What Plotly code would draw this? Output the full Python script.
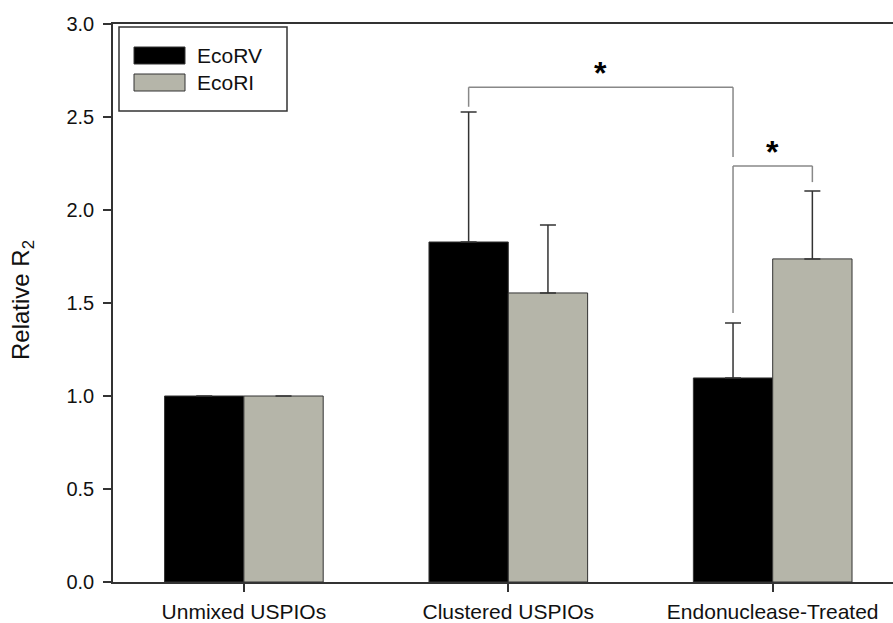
import plotly.graph_objects as go

# Groups and measured values
categories = ["Unmixed USPIOs", "Clustered USPIOs", "Endonuclease-Treated"]
ecorv_mean = [1.0, 1.828, 1.097]
ecorv_err = [0.0, 0.699, 0.295]
ecori_mean = [1.0, 1.554, 1.737]
ecori_err = [0.0, 0.365, 0.365]

y_ticks = [0.0, 0.5, 1.0, 1.5, 2.0, 2.5, 3.0]

# significance brackets: (x_left, x_right, y_bar, y_left_end, y_right_end)
BAR_HALF = 0.15
brackets = [
    (1 - BAR_HALF, 2 - BAR_HALF, 2.66, 2.555, 2.285),
    (2 - BAR_HALF, 2 + BAR_HALF, 2.237, 1.446, 2.15),
]

W, H = 893, 623
L, T, B = 113, 24, 41
PW, PH = W - L, H - T - B

FONT = "Liberation Sans, Arial, sans-serif"
BLACK = "#000000"
GRAY = "#b5b5a9"
EDGE = "#333333"

x_pos = list(range(len(categories)))

fig = go.Figure()
fig.add_trace(go.Bar(
    x=x_pos, y=ecorv_mean, name="EcoRV",
    marker=dict(color=BLACK, line=dict(color=EDGE, width=1)),
    error_y=dict(type="data", array=ecorv_err, arrayminus=[0] * 3, symmetric=False,
                 color=EDGE, thickness=1.5, width=8),
))
fig.add_trace(go.Bar(
    x=x_pos, y=ecori_mean, name="EcoRI",
    marker=dict(color=GRAY, line=dict(color=EDGE, width=1)),
    error_y=dict(type="data", array=ecori_err, arrayminus=[0] * 3, symmetric=False,
                 color=EDGE, thickness=1.5, width=8),
))

shapes = []
annotations = []
for xl, xr, yb, yl, yr in brackets:
    for x0, y0, x1, y1 in [(xl, yl, xl, yb), (xl, yb, xr, yb), (xr, yb, xr, yr)]:
        shapes.append(dict(type="line", xref="x", yref="y", x0=x0, y0=y0, x1=x1, y1=y1,
                           line=dict(color="#888888", width=1.5)))
    annotations.append(dict(x=(xl + xr) / 2, y=yb, xref="x", yref="y", text="*",
                            showarrow=False, yanchor="bottom", yshift=-6,
                            font=dict(family=FONT, size=32, color="#000000", weight="bold")))


def px_x(px):
    return (px - L) / PW


def px_y(py):
    return 1 - (py - T) / PH


# legend box drawn in pixel-based paper coordinates
shapes.append(dict(type="rect", xref="paper", yref="paper",
                   x0=px_x(119), x1=px_x(287), y0=px_y(111), y1=px_y(27),
                   line=dict(color=EDGE, width=1.5), fillcolor="white"))
for (ytop, ybot, col, label) in [(47, 64, BLACK, "EcoRV"), (74, 91, GRAY, "EcoRI")]:
    shapes.append(dict(type="rect", xref="paper", yref="paper",
                       x0=px_x(134), x1=px_x(185), y0=px_y(ybot), y1=px_y(ytop),
                       line=dict(color=EDGE, width=1), fillcolor=col))
    annotations.append(dict(xref="paper", yref="paper", x=px_x(195), y=px_y((ytop + ybot) / 2),
                            text=label, showarrow=False, xanchor="left", yanchor="middle",
                            font=dict(family=FONT, size=21, color="#111111")))

annotations.append(dict(xref="paper", yref="paper", x=px_x(22), y=px_y(300),
                        text="Relative R<sub>2</sub>", textangle=-90, showarrow=False,
                        xanchor="center", yanchor="middle",
                        font=dict(family=FONT, size=24, color="#111111")))

fig.update_layout(
    width=W, height=H,
    margin=dict(l=L, r=0, t=T, b=B, pad=0),
    paper_bgcolor="white", plot_bgcolor="white",
    barmode="group", bargap=0.4, bargroupgap=0,
    showlegend=False,
    shapes=shapes, annotations=annotations,
    font=dict(family=FONT, color="#111111"),
)
fig.update_xaxes(
    range=[-0.495, 2.455], tickvals=x_pos, ticktext=categories,
    showline=True, linecolor=EDGE, linewidth=1.5, mirror=True,
    ticks="outside", ticklen=8, tickwidth=1.5, tickcolor=EDGE,
    showgrid=False, zeroline=False, tickfont=dict(family=FONT, size=21),
    ticklabelstandoff=2,
)
fig.update_yaxes(
    range=[0, 3.0], tickvals=y_ticks, ticktext=[f"{v:.1f}" for v in y_ticks],
    showline=True, linecolor=EDGE, linewidth=1.5,
    ticks="outside", ticklen=8, tickwidth=1.5, tickcolor=EDGE,
    showgrid=False, zeroline=False, tickfont=dict(family=FONT, size=20),
    ticklabelstandoff=5,
)

fig.write_html("out.html")
